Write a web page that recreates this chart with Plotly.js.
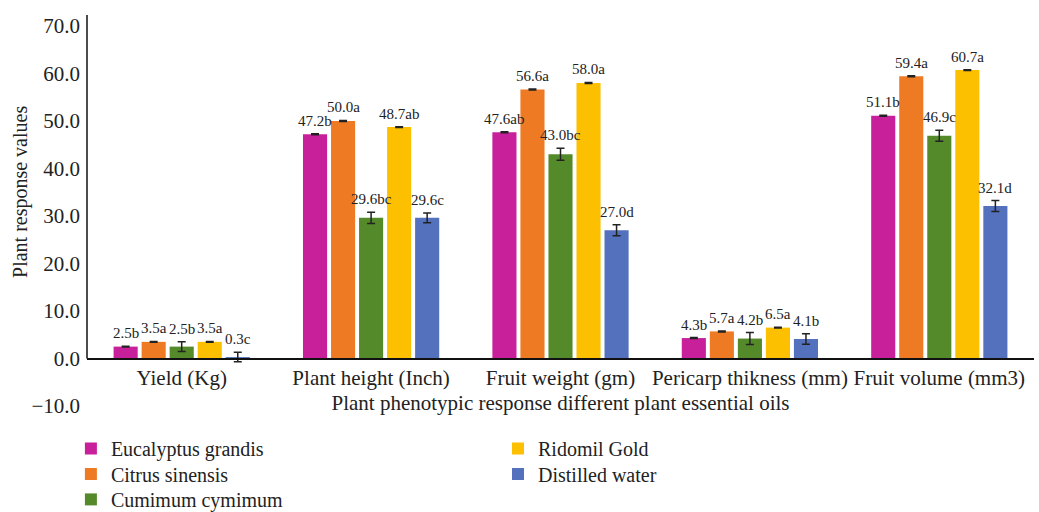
<!DOCTYPE html>
<html><head><meta charset="utf-8">
<script src="https://cdn.plot.ly/plotly-3.0.1.min.js"></script>
<style>html,body{margin:0;padding:0;background:#fff}#chart{width:1039px;height:512px}</style>
</head><body><div id="chart"></div>
<script>
const categories = ['Yield (Kg)', 'Plant height (Inch)', 'Fruit weight (gm)', 'Pericarp thikness (mm)', 'Fruit volume (mm3)'];
const seriesNames = ['Eucalyptus grandis', 'Citrus sinensis', 'Cumimum cymimum', 'Ridomil Gold', 'Distilled water'];
const eucalyptus = [2.5, 47.2, 47.6, 4.3, 51.1];
const citrus = [3.5, 50.0, 56.6, 5.7, 59.4];
const cumimum = [2.5, 29.6, 43.0, 4.2, 46.9];
const ridomil = [3.5, 48.7, 58.0, 6.5, 60.7];
const water = [0.3, 29.6, 27.0, 4.1, 32.1];
const eucalyptusErr = [0.1, 0.1, 0.1, 0.1, 0.1];
const citrusErr = [0.1, 0.1, 0.1, 0.1, 0.1];
const cumimumErr = [1.05, 1.2, 1.25, 1.25, 1.15];
const ridomilErr = [0.1, 0.1, 0.1, 0.1, 0.1];
const waterErr = [1.0, 1.05, 1.15, 1.1, 1.15];
const eucalyptusLetters = ['b', 'b', 'ab', 'b', 'b'];
const citrusLetters = ['a', 'a', 'a', 'a', 'a'];
const cumimumLetters = ['b', 'bc', 'bc', 'b', 'c'];
const ridomilLetters = ['a', 'ab', 'a', 'a', 'a'];
const waterLetters = ['c', 'c', 'd', 'b', 'd'];
const yTicks = [-10, 0, 10, 20, 30, 40, 50, 60, 70];

const colors = ['#C8209A', '#EE7B24', '#558A2B', '#FCC000', '#5371BD'];
const values = [eucalyptus, citrus, cumimum, ridomil, water];
const errs = [eucalyptusErr, citrusErr, cumimumErr, ridomilErr, waterErr];
const letters = [eucalyptusLetters, citrusLetters, cumimumLetters, ridomilLetters, waterLetters];
const legendIds = ['legend', 'legend2', 'legend3', 'legend4', 'legend5'];

const FONT = 'Liberation Serif, DejaVu Serif, serif';
const bargap = 0.26, bargroupgap = 0.14;

const traces = values.map((v, k) => ({
  type: 'bar', name: seriesNames[k], x: categories, y: v,
  marker: {color: colors[k]},
  error_y: {type: 'data', array: errs[k], visible: true, color: '#222', thickness: 1.5, width: 4},
  legend: legendIds[k], hoverinfo: 'none'
}));

const slot = (1 - bargap) / values.length;
const annotations = [];
values.forEach((v, k) => {
  v.forEach((val, i) => {
    annotations.push({
      xref: 'x', yref: 'y', x: i + (k - (values.length - 1) / 2) * slot, y: val + errs[k][i],
      text: val.toFixed(1) + letters[k][i], showarrow: false, yanchor: 'bottom', xanchor: 'center',
      yshift: 3, font: {family: FONT, size: 15, color: '#222'}
    });
  });
});
annotations.push({
  xref: 'paper', yref: 'y', x: -0.071, y: 35, text: 'Plant response values', textangle: -90,
  showarrow: false, xanchor: 'center', yanchor: 'middle', font: {family: FONT, size: 20, color: '#222'}
});

const legendBase = {xanchor: 'left', yanchor: 'top', orientation: 'v', font: {family: FONT, size: 20, color: '#222'}, bgcolor: 'rgba(0,0,0,0)', itemwidth: 30};
const legendPos = [[-0.017, -0.0588], [-0.017, -0.124], [-0.017, -0.189], [0.434, -0.0588], [0.434, -0.124]];

const layout = {
  width: 1039, height: 512,
  margin: {l: 87, r: 5, t: 15, b: 106, autoexpand: false},
  paper_bgcolor: '#fff', plot_bgcolor: '#fff',
  barmode: 'group', bargap: bargap, bargroupgap: bargroupgap,
  font: {family: FONT, size: 21, color: '#222'},
  xaxis: {
    type: 'category', anchor: 'free', position: (10 / 82.3),
    range: [-0.5, 4.5], showline: true, linecolor: '#111', linewidth: 1.5,
    showgrid: false, ticks: '', tickfont: {family: FONT, size: 21, color: '#222'},
    title: {text: 'Plant phenotypic response different plant essential oils', font: {family: FONT, size: 21, color: '#222'}, standoff: 6}
  },
  yaxis: {
    range: [-10, 72.3], tickvals: yTicks, tickformat: '.1f', showgrid: false, zeroline: false,
    showline: false, ticks: '', ticklabelstandoff: 6,
    tickfont: {family: FONT, size: 21, color: '#222'}
  },
  shapes: [{type: 'line', xref: 'paper', yref: 'y', x0: 0, x1: 0, y0: 0, y1: 72.3, line: {color: '#111', width: 1.5}}],
  annotations: annotations,
  showlegend: true
};
legendIds.forEach((id, k) => {
  layout[id] = Object.assign({}, legendBase, {x: legendPos[k][0], y: legendPos[k][1]});
});

Plotly.newPlot('chart', traces, layout, {displayModeBar: false, staticPlot: true});
</script>
</body></html>
